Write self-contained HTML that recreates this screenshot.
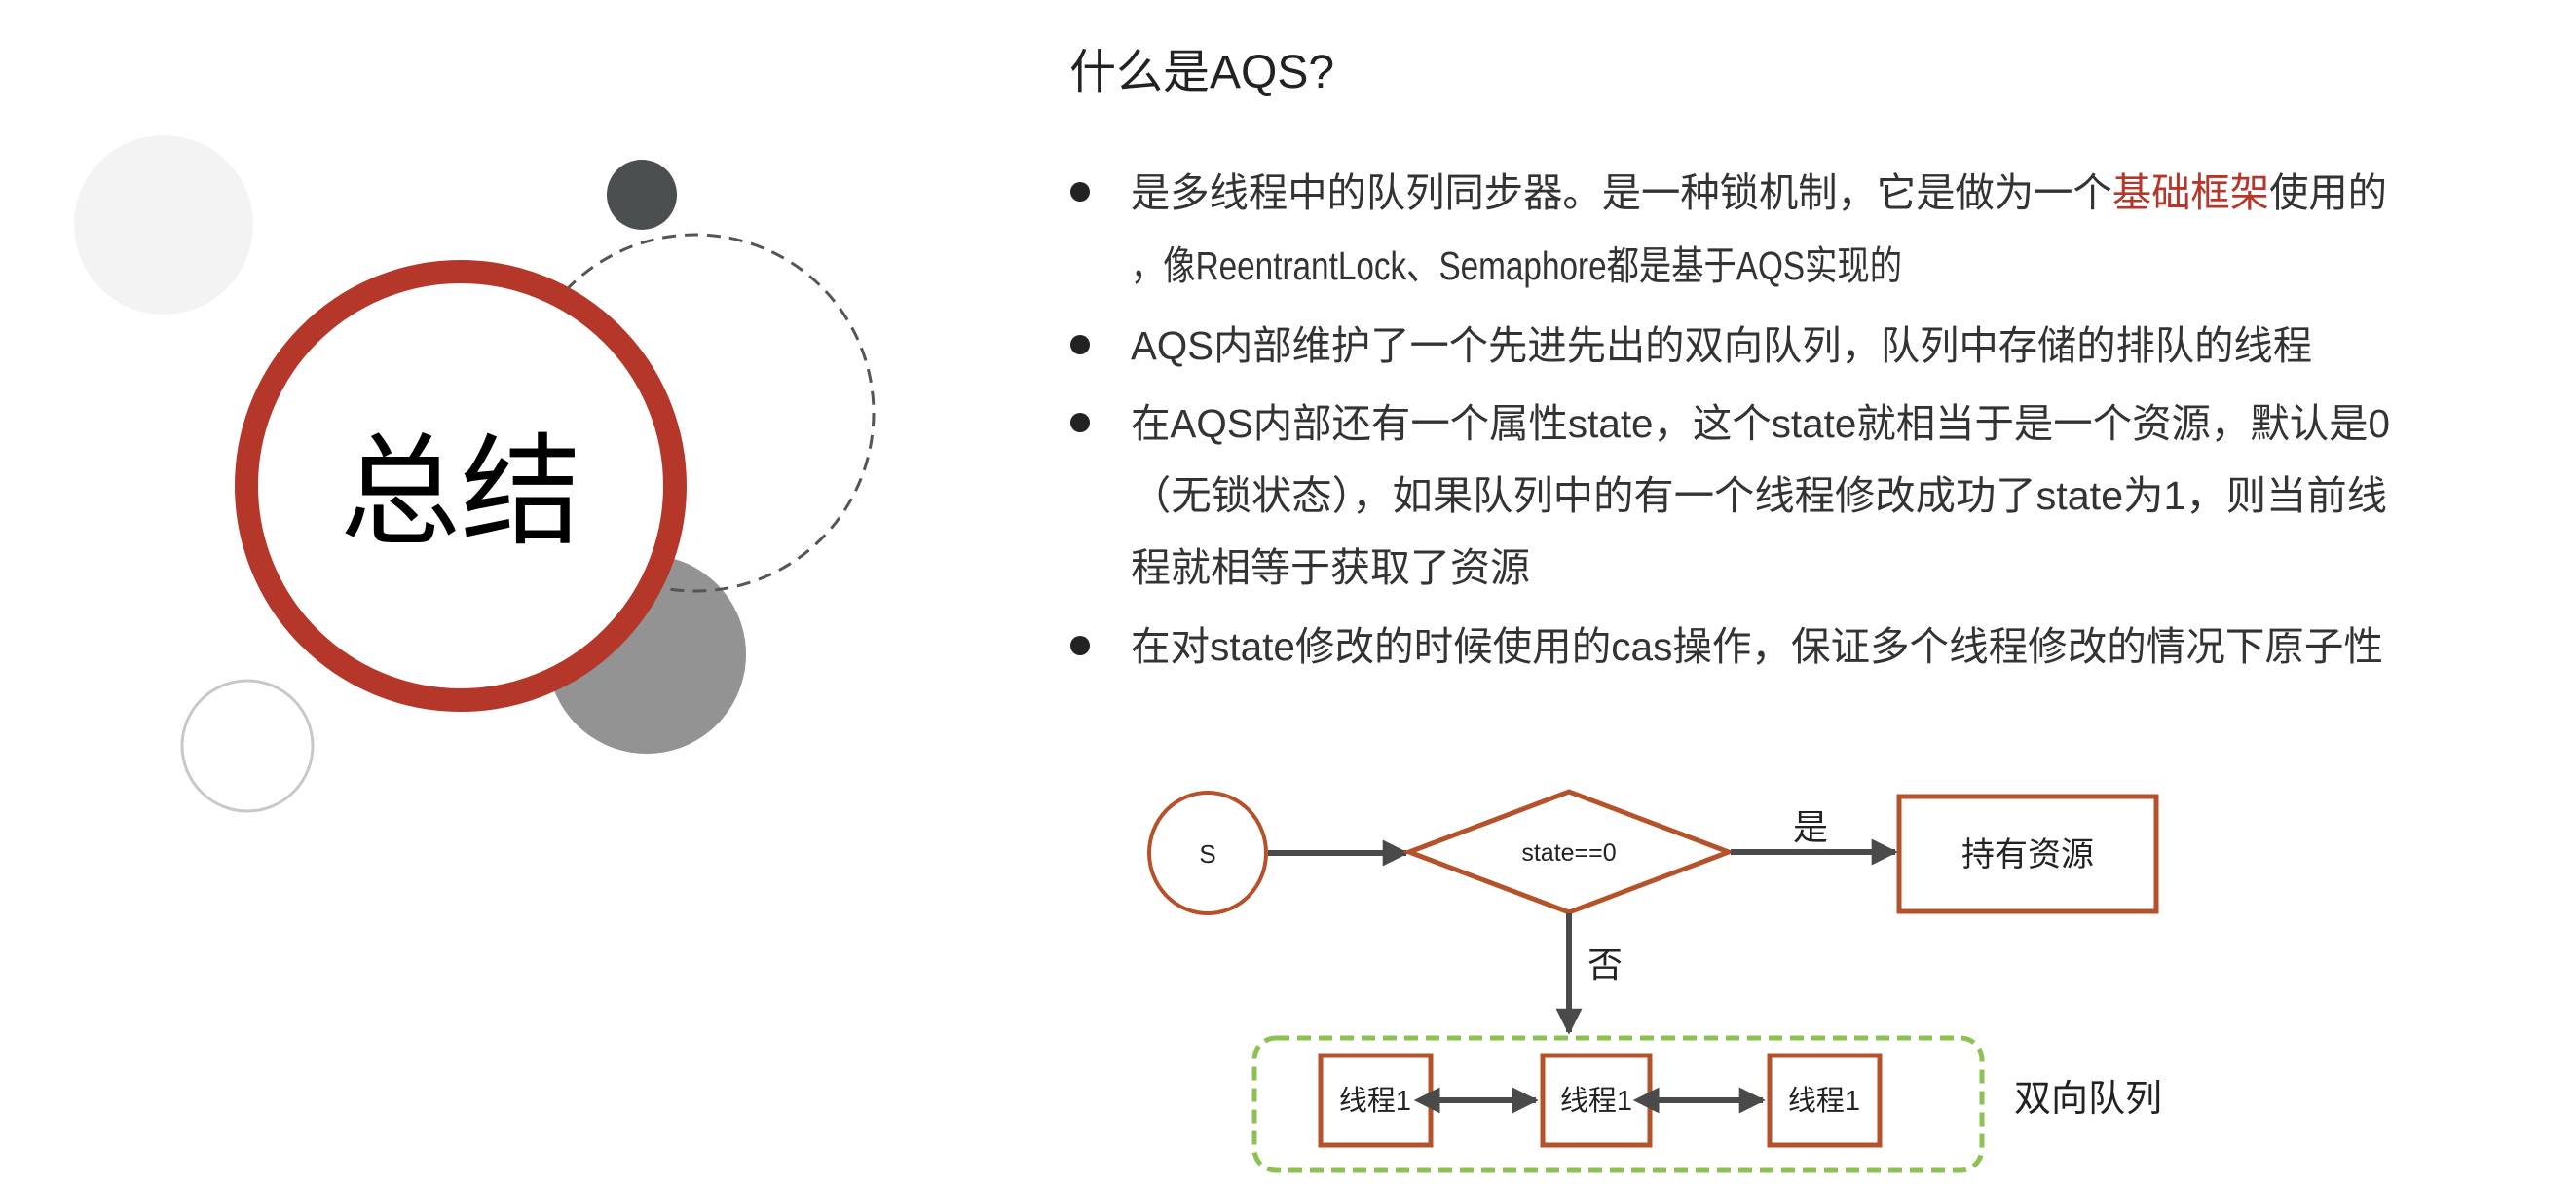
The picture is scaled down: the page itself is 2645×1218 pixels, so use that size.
<!DOCTYPE html>
<html><head><meta charset="utf-8"><style>
html,body{margin:0;padding:0;background:#fff;}
svg{display:block;}
text{font-family:"Liberation Sans","Noto Sans CJK SC",sans-serif;}
</style></head><body>
<svg width="2645" height="1218" viewBox="0 0 2645 1218" xmlns="http://www.w3.org/2000/svg">
<defs>
<marker id="ah" viewBox="0 0 10 10" refX="9" refY="5" markerWidth="4.5" markerHeight="4.5" orient="auto"><path d="M0,0 L10,5 L0,10 z" fill="#4a4a4a"/></marker>
<marker id="ahs" viewBox="0 0 10 10" refX="1" refY="5" markerWidth="4.5" markerHeight="4.5" orient="auto-start-reverse"><path d="M0,0 L10,5 L0,10 z" fill="#4a4a4a"/></marker>
</defs>
<!-- left decoration -->
<circle cx="168" cy="231" r="92" fill="#f3f3f3"/>
<circle cx="659" cy="200" r="36" fill="#4b4f50"/>
<circle cx="664" cy="672" r="102" fill="#939393"/>
<circle cx="714" cy="424" r="183" fill="none" stroke="#555" stroke-width="3" stroke-dasharray="14 9"/>
<circle cx="254" cy="766" r="67" fill="none" stroke="#c8c8c8" stroke-width="3"/>
<circle cx="473" cy="499" r="220" fill="#fff" stroke="#b5372a" stroke-width="24"/>
<text x="473" y="548" font-size="124" text-anchor="middle" fill="#000">总结</text>
<!-- right text -->
<text x="1098" y="90" font-size="48" fill="#222">什么是AQS?</text>
<g font-size="41" fill="#333">
<circle cx="1109" cy="197" r="10" fill="#222"/>
<text x="1161" y="212" textLength="1290" lengthAdjust="spacingAndGlyphs">是多线程中的队列同步器。是一种锁机制，它是做为一个<tspan fill="#b5372a">基础框架</tspan>使用的</text>
<text x="1161" y="287" textLength="792" lengthAdjust="spacingAndGlyphs">，像ReentrantLock、Semaphore都是基于AQS实现的</text>
<circle cx="1109" cy="354" r="10" fill="#222"/>
<text x="1161" y="369" textLength="1213" lengthAdjust="spacingAndGlyphs">AQS内部维护了一个先进先出的双向队列，队列中存储的排队的线程</text>
<circle cx="1109" cy="434" r="10" fill="#222"/>
<text x="1161" y="449" textLength="1293" lengthAdjust="spacingAndGlyphs">在AQS内部还有一个属性state，这个state就相当于是一个资源，默认是0</text>
<text x="1161" y="523" textLength="1290" lengthAdjust="spacingAndGlyphs">（无锁状态），如果队列中的有一个线程修改成功了state为1，则当前线</text>
<text x="1161" y="597">程就相等于获取了资源</text>
<circle cx="1109" cy="663" r="10" fill="#222"/>
<text x="1161" y="678" textLength="1286" lengthAdjust="spacingAndGlyphs">在对state修改的时候使用的cas操作，保证多个线程修改的情况下原子性</text>
</g>
<!-- flowchart -->
<ellipse cx="1240" cy="876" rx="60" ry="62" fill="#fff" stroke="#b5522a" stroke-width="4"/>
<text x="1240" y="886" font-size="26" text-anchor="middle" fill="#222">S</text>
<line x1="1302" y1="876" x2="1444" y2="876" stroke="#4a4a4a" stroke-width="6" marker-end="url(#ah)"/>
<polygon points="1447,875 1611,813 1775,875 1611,937" fill="#fff" stroke="#b5522a" stroke-width="5"/>
<text x="1611" y="884" font-size="25" text-anchor="middle" fill="#222">state==0</text>
<line x1="1777" y1="875" x2="1946" y2="875" stroke="#4a4a4a" stroke-width="6" marker-end="url(#ah)"/>
<text x="1859" y="862" font-size="36" text-anchor="middle" fill="#222">是</text>
<rect x="1950" y="818" width="264" height="118" fill="#fff" stroke="#b5522a" stroke-width="5"/>
<text x="2082" y="889" font-size="34" text-anchor="middle" fill="#222">持有资源</text>
<line x1="1611" y1="938" x2="1611" y2="1060" stroke="#4a4a4a" stroke-width="6" marker-end="url(#ah)"/>
<text x="1648" y="1003" font-size="36" text-anchor="middle" fill="#222">否</text>
<rect x="1288" y="1066" width="747" height="136" rx="22" fill="none" stroke="#8dc153" stroke-width="5" stroke-dasharray="14 8"/>
<g fill="#fff" stroke="#b5522a" stroke-width="5">
<rect x="1356" y="1084" width="113" height="92"/>
<rect x="1584" y="1084" width="110" height="92"/>
<rect x="1817" y="1084" width="113" height="92"/>
</g>
<g font-size="29" text-anchor="middle" fill="#222">
<text x="1412" y="1140">线程1</text>
<text x="1639" y="1140">线程1</text>
<text x="1873" y="1140">线程1</text>
</g>
<line x1="1476" y1="1130" x2="1577" y2="1130" stroke="#4a4a4a" stroke-width="6" marker-start="url(#ahs)" marker-end="url(#ah)"/>
<line x1="1701" y1="1130" x2="1810" y2="1130" stroke="#4a4a4a" stroke-width="6" marker-start="url(#ahs)" marker-end="url(#ah)"/>
<text x="2068" y="1141" font-size="38" fill="#222">双向队列</text>
</svg>
</body></html>
